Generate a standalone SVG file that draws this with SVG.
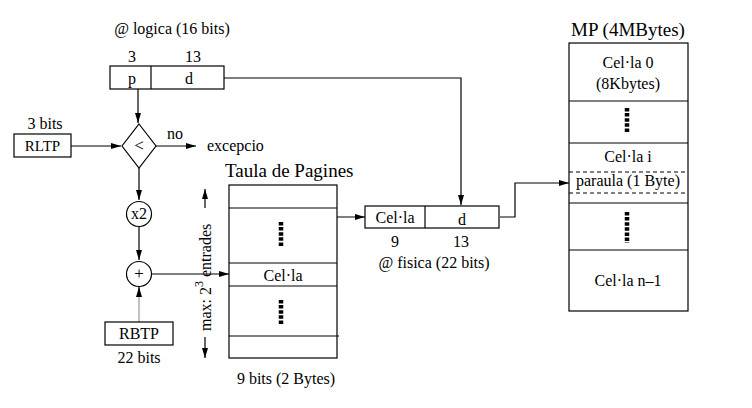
<svg xmlns="http://www.w3.org/2000/svg" width="752" height="408" viewBox="0 0 752 408">
<defs>
<marker id="ah" markerWidth="10" markerHeight="6" refX="10" refY="3" orient="auto" markerUnits="userSpaceOnUse">
<path d="M0,0 L10,3 L0,6 Z" fill="#000"/>
</marker>
<style>
text{font-family:"Liberation Serif","Times New Roman",serif;fill:#000}
.t{font-size:16px;text-anchor:middle}
.s{font-size:15px;text-anchor:middle}
.h{font-size:19px}
.b{fill:#fff;stroke:#000;stroke-width:1.2}
.l{fill:none;stroke:#000;stroke-width:1.2}
.c{fill:none;stroke:#000;stroke-width:1.2;marker-end:url(#ah)}
.dots{stroke:#000;stroke-width:4.5;stroke-dasharray:3.5 1.6}
.dash{stroke:#000;stroke-width:1.2;stroke-dasharray:4 3}
</style>
</defs>
<rect width="752" height="408" fill="#fff"/>

<g id="connectors">
<polyline class="c" points="215,78 461,78 461,205"/>
<line class="c" x1="138" y1="89" x2="138" y2="123"/>
<line class="c" x1="71" y1="146" x2="121" y2="146"/>
<line class="c" x1="156" y1="146" x2="196" y2="146"/>
<line class="c" x1="139" y1="168" x2="139" y2="200"/>
<line class="c" x1="139" y1="227" x2="139" y2="260"/>
<line x1="139" y1="322" x2="139" y2="292" stroke="#999" stroke-width="1.2"/>
<line class="c" x1="139" y1="294" x2="139" y2="287"/>
<line class="c" x1="152" y1="274" x2="229" y2="274"/>
<line class="c" x1="332" y1="217" x2="365" y2="217"/>
<polyline class="c" points="500,217 515,217 515,183 569,183"/>
<line class="c" x1="205" y1="208" x2="205" y2="189"/>
<line class="c" x1="205" y1="337" x2="205" y2="358"/>
</g>

<g id="logical">
<text class="t" x="172" y="34">@ logica (16 bits)</text>
<text class="t" x="132" y="62">3</text>
<text class="t" x="193" y="62">13</text>
<rect class="b" x="110" y="66" width="114" height="23"/>
<line class="l" x1="151" y1="66" x2="151" y2="89"/>
<text class="t" x="132" y="84">p</text>
<text class="t" x="189" y="84">d</text>
</g>

<g id="rltp">
<text class="t" x="45" y="129">3 bits</text>
<rect class="b" x="14" y="134" width="57" height="23"/>
<text class="s" x="42.5" y="151">RLTP</text>
</g>

<g id="compare">
<polygon class="b" points="139,124 156,146 139,168 122,146"/>
<text class="t" x="139" y="151" style="font-size:17px">&lt;</text>
<text class="t" x="175" y="139">no</text>
<text class="t" x="207" y="151" style="text-anchor:start">excepcio</text>
</g>

<g id="x2">
<circle class="b" cx="139" cy="214" r="12.5"/>
<text class="t" x="139" y="219">x2</text>
</g>

<g id="plus">
<circle class="b" cx="139" cy="274" r="12.5"/>
<text class="t" x="139" y="279" style="font-size:17px">+</text>
</g>

<g id="rbtp">
<rect class="b" x="105" y="322" width="68" height="23"/>
<text class="t" x="139" y="339">RBTP</text>
<text class="t" x="139" y="363">22 bits</text>
</g>

<g id="range">
<text style="font-size:16px" transform="translate(211,331) rotate(-90)">max: 2<tspan dy="-8" font-size="12">3</tspan><tspan dy="8"> entrades</tspan></text>
</g>

<g id="table">
<text class="h" x="225" y="177">Taula de Pagines</text>
<rect class="b" x="229" y="185" width="108" height="173"/>
<line class="l" x1="229" y1="208" x2="337" y2="208"/>
<line class="l" x1="229" y1="263" x2="337" y2="263"/>
<line class="l" x1="229" y1="286" x2="337" y2="286"/>
<line class="l" x1="229" y1="336" x2="339" y2="336"/>
<line class="dots" x1="281" y1="222" x2="281" y2="247"/>
<text class="t" x="283" y="281">Cel·la</text>
<line class="dots" x1="281" y1="300" x2="281" y2="325"/>
<text class="t" x="286" y="384">9 bits (2 Bytes)</text>
</g>

<g id="physical">
<rect class="b" x="365" y="206" width="134" height="22"/>
<line class="l" x1="425" y1="206" x2="425" y2="228"/>
<text class="t" x="395" y="223">Cel·la</text>
<text class="t" x="462" y="225">d</text>
<text class="t" x="395" y="247">9</text>
<text class="t" x="461" y="247">13</text>
<text class="t" x="434" y="268">@ fisica (22 bits)</text>
</g>

<g id="mp">
<text class="h" x="628" y="36" style="text-anchor:middle">MP (4MBytes)</text>
<rect class="b" x="569" y="43" width="119" height="268"/>
<line class="l" x1="569" y1="101" x2="688" y2="101"/>
<line class="l" x1="569" y1="143" x2="688" y2="143"/>
<line class="dash" x1="569" y1="172" x2="688" y2="172"/>
<line class="dash" x1="569" y1="193" x2="688" y2="193"/>
<line class="l" x1="569" y1="203" x2="688" y2="203"/>
<line class="l" x1="569" y1="250" x2="688" y2="250"/>
<text class="t" x="628" y="68">Cel·la 0</text>
<text class="t" x="628" y="89">(8Kbytes)</text>
<line class="dots" x1="627" y1="108" x2="627" y2="133"/>
<text class="t" x="628" y="162">Cel·la i</text>
<text class="t" x="628" y="186">paraula (1 Byte)</text>
<line class="dots" x1="627" y1="212" x2="627" y2="243"/>
<text class="t" x="628" y="286">Cel·la n–1</text>
</g>
</svg>
